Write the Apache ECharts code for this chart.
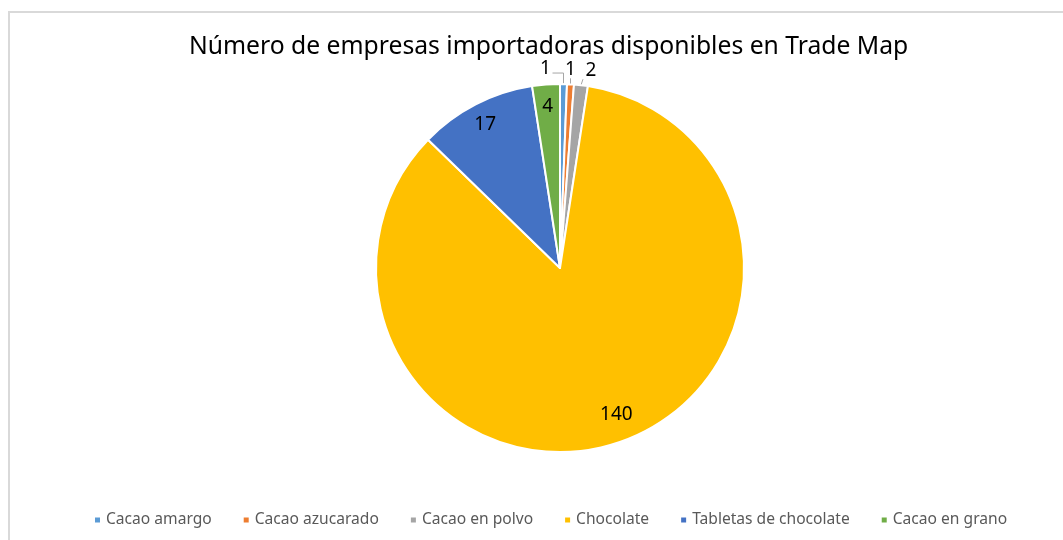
<!DOCTYPE html>
<html>
<head>
<meta charset="utf-8">
<script src="https://cdn.jsdelivr.net/npm/echarts@6/dist/echarts.min.js"></script>
<style>
  html, body { margin: 0; padding: 0; background: #fff; }
  #frame { position: absolute; left: 8px; top: 11px; width: 1100px; height: 600px; border-left: 2px solid #d9d9d9; border-top: 2px solid #d9d9d9; }
  #main { position: absolute; left: 0; top: 0; width: 1063px; height: 540px; }
</style>
</head>
<body>
<div id="frame"></div>
<div id="main"></div>
<script>
var categories = ['Cacao amargo', 'Cacao azucarado', 'Cacao en polvo', 'Chocolate', 'Tabletas de chocolate', 'Cacao en grano']
var values = [1, 1, 2, 140, 17, 4]
var colors = ['#5B9BD5', '#ED7D31', '#A5A5A5', '#FFC000', '#4472C4', '#70AD47']

var cx = 560, cy = 268, radius = 184
var font = '"Noto Sans", "Open Sans", sans-serif'
// small slices get their label outside, nudged sideways like in the original
var outsideShift = [-18, 0, 10]

var pieData = categories.map(function (name, i) {
  var small = values[i] < 3
  return {
    name: name,
    value: values[i],
    itemStyle: { color: colors[i] },
    label: { position: small ? 'outside' : 'inside' },
    labelLine: { show: small }
  }
})

var chart = echarts.init(document.getElementById('main'))
chart.setOption({
  animation: false,
  title: {
    text: 'Número de empresas importadoras disponibles en Trade Map',
    left: 184,
    top: 29,
    textStyle: { fontFamily: font, fontSize: 24.7, fontWeight: 'normal', color: '#000' }
  },
  legend: {
    data: categories,
    bottom: 7,
    left: 88,
    icon: 'rect',
    itemWidth: 7,
    itemHeight: 7,
    itemGap: 30,
    textStyle: { fontFamily: font, fontSize: 15.6, color: '#595959' }
  },
  series: [{
    type: 'pie',
    center: [cx, cy],
    radius: radius,
    startAngle: 90,
    clockwise: true,
    avoidLabelOverlap: false,
    data: pieData,
    itemStyle: { borderColor: '#fff', borderWidth: 2 },
    label: {
      show: true,
      formatter: '{c}',
      fontFamily: font,
      fontSize: 19,
      color: '#000'
    },
    labelLine: { length: 8, length2: 4, lineStyle: { color: '#a6a6a6', width: 1 } },
    labelLayout: function (p) {
      var r = p.labelRect
      if (values[p.dataIndex] >= 3) {
        // push inside labels out from r/2 towards the rim
        var mx = r.x + r.width / 2, my = r.y + r.height / 2
        var k = values[p.dataIndex] > 100 ? 1.6 : 1.72
        return {
          x: cx + (mx - cx) * k + (values[p.dataIndex] > 100 ? 8 : 0),
          y: cy + (my - cy) * k + 2,
          align: 'center',
          verticalAlign: 'middle'
        }
      }
      var pt = p.labelLinePoints[0]
      var s = outsideShift[p.dataIndex]
      var lx = pt[0] + s, ly = pt[1] - 15
      var line = s < 0
        ? [[pt[0], pt[1]], [pt[0], pt[1] - 11], [lx + 7, pt[1] - 11]]
        : [[pt[0], pt[1]], [pt[0] + s * 0.2, pt[1] - 6]]
      return { x: lx, y: ly, align: 'center', verticalAlign: 'middle', labelLinePoints: line }
    }
  }]
})
</script>
</body>
</html>
